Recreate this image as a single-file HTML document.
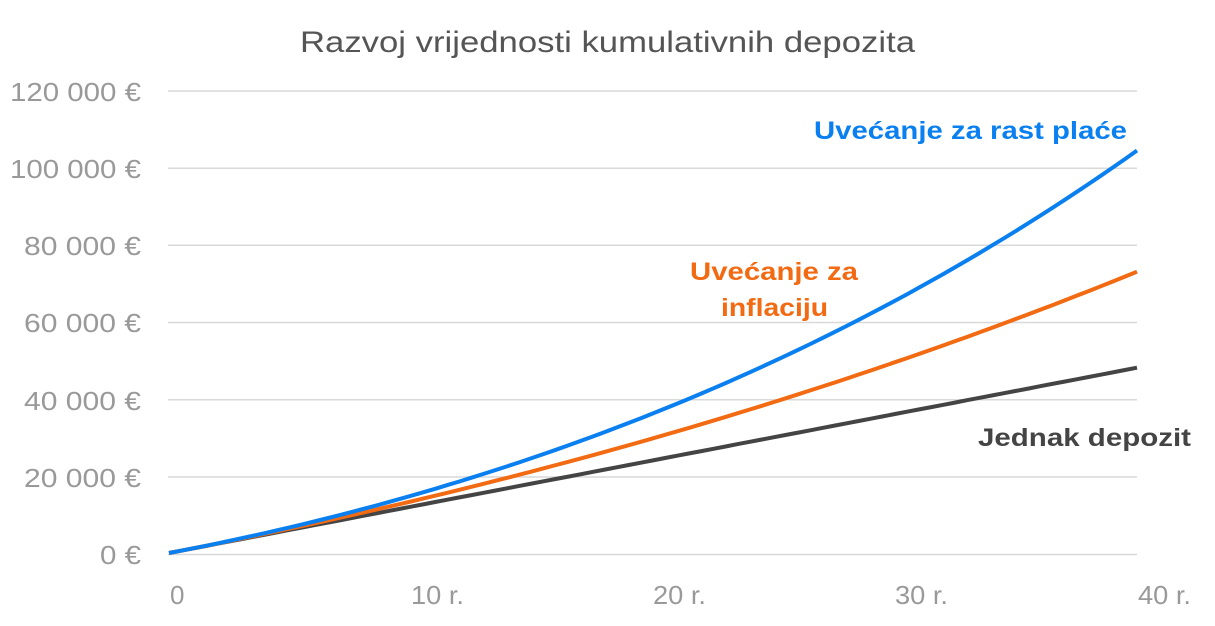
<!DOCTYPE html>
<html><head><meta charset="utf-8"><style>
body{margin:0;background:#fff;width:1215px;height:621px;overflow:hidden}
svg text{font-family:"Liberation Sans",Arial,sans-serif}
</style></head><body>
<svg id="s" width="1215" height="621" viewBox="0 0 1215 621">
<text x="300" y="52" font-size="30" fill="#555" textLength="615" lengthAdjust="spacingAndGlyphs">Razvoj vrijednosti kumulativnih depozita</text>
<g stroke="#d9d9d9" stroke-width="1.5">
<line x1="168" x2="1137" y1="91" y2="91"/><line x1="168" x2="1137" y1="168.2" y2="168.2"/>
<line x1="168" x2="1137" y1="245.3" y2="245.3"/><line x1="168" x2="1137" y1="322.5" y2="322.5"/>
<line x1="168" x2="1137" y1="399.7" y2="399.7"/><line x1="168" x2="1137" y1="477" y2="477"/>
<line x1="168" x2="1137" y1="554.5" y2="554.5"/>
</g>
<g font-size="26" fill="#999">
<text x="10" y="101" textLength="131" lengthAdjust="spacingAndGlyphs">120 000 €</text>
<text x="10" y="178" textLength="131" lengthAdjust="spacingAndGlyphs">100 000 €</text>
<text x="24" y="255" textLength="117" lengthAdjust="spacingAndGlyphs">80 000 €</text>
<text x="24" y="332" textLength="117" lengthAdjust="spacingAndGlyphs">60 000 €</text>
<text x="24" y="410" textLength="117" lengthAdjust="spacingAndGlyphs">40 000 €</text>
<text x="24" y="487" textLength="117" lengthAdjust="spacingAndGlyphs">20 000 €</text>
<text x="100" y="564" textLength="41" lengthAdjust="spacingAndGlyphs">0 €</text>
</g>
<g font-size="26" fill="#999">
<text x="170" y="604">0</text>
<text x="411" y="604" textLength="53" lengthAdjust="spacingAndGlyphs">10 r.</text>
<text x="653" y="604" textLength="53" lengthAdjust="spacingAndGlyphs">20 r.</text>
<text x="895" y="604" textLength="53" lengthAdjust="spacingAndGlyphs">30 r.</text>
<text x="1138" y="604" textLength="53" lengthAdjust="spacingAndGlyphs">40 r.</text>
</g>
<path id="d" fill="none" stroke="#444" stroke-width="4"/>
<path id="o" fill="none" stroke="#f26a12" stroke-width="4"/>
<path id="b" fill="none" stroke="#0a80f0" stroke-width="4"/>
<g font-size="25" font-weight="bold">
<text x="814" y="139" fill="#0a80f0" textLength="313" lengthAdjust="spacingAndGlyphs">Uvećanje za rast plaće</text>
<text x="690" y="280" fill="#f26a12" textLength="168" lengthAdjust="spacingAndGlyphs">Uvećanje za</text>
<text x="721" y="316" fill="#f26a12" textLength="107" lengthAdjust="spacingAndGlyphs">inflaciju</text>
<text x="978" y="446" fill="#444" textLength="213" lengthAdjust="spacingAndGlyphs">Jednak depozit</text>
</g>
</svg>
<script>
function p(a,g){var s="";for(var i=0;i<=80;i++){var t=i/2;var q=1200*(t+a*t*t/2);var e=g?1200*(Math.pow(1+g,t)-1)/g:1200*t;var v=(q+e)/2;var x=169+t*968/40,y=553-v*77.2/20000;s+=(i?"L":"M")+x.toFixed(1)+" "+y.toFixed(1);}return s;}
document.getElementById("d").setAttribute("d",p(0,0));
document.getElementById("o").setAttribute("d",p(0.0255,0.0205));
document.getElementById("b").setAttribute("d",p(0.0578,0.0365));
</script>
</body></html>
